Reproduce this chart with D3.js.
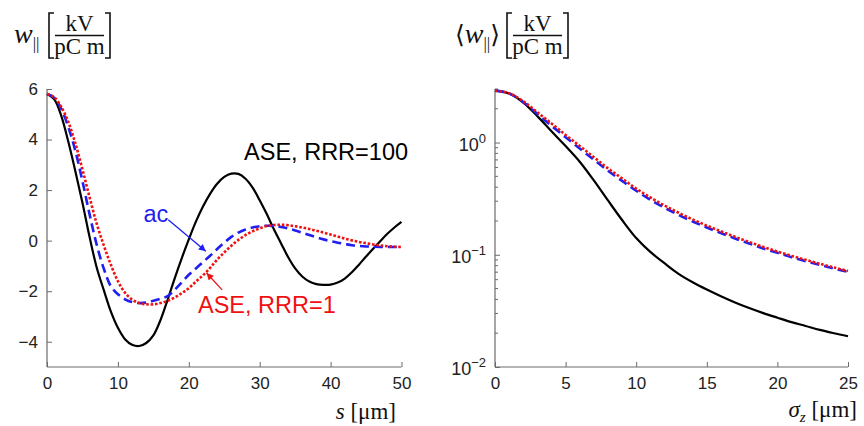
<!DOCTYPE html>
<html>
<head>
<meta charset="utf-8">
<script src="https://cdn.jsdelivr.net/npm/d3@7"></script>
<style>
  html, body { margin: 0; padding: 0; background: #fff; }
  svg { display: block; }
  .tick-label { font-family: "Liberation Sans", Arial, sans-serif; font-size: 17px; fill: #222; }
  .serif { font-family: "Liberation Serif", "DejaVu Serif", serif; fill: #111; }
  .anno { font-family: "Liberation Sans", Arial, sans-serif; font-size: 23.5px; }
</style>
</head>
<body>
<svg id="chart" width="864" height="426"></svg>
<script>
// ---- Wake potential w_|| (kV/pC/m) versus distance s (µm) ----
const sValues = [0,1,2,3,4,5,6,7,8,9,10,11,12,13,14,15,16,17,18,19,20,21,22,23,24,25,
                 26,27,28,29,30,31,32,33,34,35,36,37,38,39,40,41,42,43,44,45,46,47,48,49,50];
const wakeRRR100 = [5.8,5.6,4.95,3.92,2.75,1.5,0.15,-1.05,-1.95,-2.8,-3.45,-3.9,-4.12,-4.17,-4.05,-3.75,
                    -3.15,-2.35,-1.5,-0.7,0.05,0.75,1.35,1.85,2.25,2.52,2.65,2.64,2.45,2.1,1.6,1.05,0.45,
                    -0.1,-0.65,-1.1,-1.42,-1.62,-1.72,-1.75,-1.74,-1.66,-1.5,-1.25,-0.95,-0.63,-0.32,-0.02,0.27,0.52,0.74];
const wakeAC = [5.8,5.66,5.22,4.5,3.55,2.35,1.05,-0.15,-1.1,-1.8,-2.12,-2.32,-2.43,-2.47,-2.45,-2.38,
                -2.3,-2.2,-1.95,-1.65,-1.35,-1.1,-0.85,-0.6,-0.33,-0.08,0.15,0.32,0.44,0.52,0.57,0.59,0.58,
                0.54,0.48,0.4,0.31,0.22,0.13,0.05,-0.02,-0.08,-0.13,-0.18,-0.21,-0.23,-0.24,-0.25,-0.25,-0.25,-0.25];
const wakeRRR1 = [5.8,5.68,5.3,4.7,3.85,2.82,1.72,0.68,-0.18,-0.95,-1.6,-2.06,-2.33,-2.47,-2.52,-2.52,
                  -2.47,-2.38,-2.25,-2.08,-1.88,-1.62,-1.37,-1.08,-0.75,-0.47,-0.2,0.03,0.22,0.37,0.49,0.58,0.62,
                  0.63,0.61,0.57,0.52,0.46,0.39,0.32,0.24,0.16,0.08,0.01,-0.05,-0.1,-0.15,-0.19,-0.22,-0.24,-0.25];
const wakeTicksX = [0,10,20,30,40,50];
const wakeTicksY = [-4,-2,0,2,4,6];

// ---- Loss factor <w_||> (kV/pC/m) versus bunch length sigma_z (µm) ----
const sigmaValues = [0,1,2,3,4,5,6,7,8,9,10,11,12,13,14,15,16,17,18,19,20,21,22,23,24,25];
const lossRRR100 = [2.9,2.73,2.27,1.72,1.26,0.93,0.675,0.46,0.305,0.204,0.141,0.106,0.0841,0.0676,
                    0.0569,0.049,0.0427,0.0376,0.0335,0.0302,0.0275,0.0251,0.0232,0.0214,0.02,0.0188];
const lossAC = [2.9,2.74,2.3,1.8,1.41,1.117,0.885,0.703,0.56,0.455,0.372,0.309,0.263,0.2265,0.198,0.175,
                0.156,0.1396,0.1259,0.1138,0.104,0.0951,0.0877,0.0811,0.0753,0.0703];
const lossRRR1 = [2.9,2.75,2.34,1.86,1.48,1.17,0.933,0.741,0.589,0.479,0.389,0.324,0.275,0.237,0.2065,
                  0.182,0.162,0.1445,0.13,0.1175,0.107,0.0977,0.0902,0.0832,0.0771,0.0716];
const lossTicksX = [0,5,10,15,20,25];
const lossTicksY = [0.01, 0.1, 1];
const lossTickExp = ["\u22122", "\u22121", "0"];

const svg = d3.select("#chart");
const axisColor = "#6b6b6b";
const styles = {
  ase100: { stroke: "#000", width: 2.2, dash: null },
  ac:     { stroke: "#1f1ff0", width: 2.6, dash: "9,5" },
  ase1:   { stroke: "#f01010", width: 2.6, dash: "2.6,1.8" }
};

const plotTop = 89, plotBottom = 367;

// ---------- left panel ----------
const xL = d3.scaleLinear().domain([0, 50]).range([47, 401.5]);
const yL = d3.scaleLinear().domain([-5, 6]).range([plotBottom, plotTop]);

function drawAxes(g, x, y, xTicks, yTicks, yFmt) {
  const ax = g.append("g").attr("transform", `translate(0,${plotBottom})`)
    .call(d3.axisBottom(x).tickValues(xTicks).tickSize(-5).tickSizeOuter(0).tickPadding(10).tickFormat(d3.format("d")));
  const ay = g.append("g").attr("transform", `translate(${x.range()[0]},0)`)
    .call(d3.axisLeft(y).tickValues(yTicks).tickSize(-5).tickSizeOuter(0).tickPadding(9).tickFormat(yFmt));
  [ax, ay].forEach(a => {
    a.select(".domain").attr("stroke", axisColor).attr("stroke-width", 1.2);
    a.selectAll(".tick line").attr("stroke", axisColor).attr("stroke-width", 1);
    a.selectAll(".tick text").attr("class", "tick-label").attr("fill", "#222");
  });
  ax.select(".domain").attr("d", `M${x.range()[0]},0H${x.range()[1]}`);
  ay.select(".domain").attr("d", `M0,${y.range()[0]}V${y.range()[1]}`);
  return { ax, ay };
}

const gL = svg.append("g");
drawAxes(gL, xL, yL, wakeTicksX, wakeTicksY, d => d < 0 ? "\u2212" + Math.abs(d) : String(d));

const lineL = d3.line().x(d => xL(d[0])).y(d => yL(d[1])).curve(d3.curveCatmullRom.alpha(0.5));
[[wakeRRR100, styles.ase100], [wakeAC, styles.ac], [wakeRRR1, styles.ase1]].forEach(([vals, st]) => {
  gL.append("path")
    .datum(sValues.map((s, i) => [s, vals[i]]))
    .attr("d", lineL).attr("fill", "none")
    .attr("stroke", st.stroke).attr("stroke-width", st.width)
    .attr("stroke-dasharray", st.dash).attr("stroke-linejoin", "round");
});

// annotations (data coordinates)
const defs = svg.append("defs");
[["headBlue", "#1f1ff0"], ["headRed", "#f01010"]].forEach(([id, c]) => {
  defs.append("marker").attr("id", id).attr("viewBox", "0 0 10 10")
    .attr("refX", 10).attr("refY", 5).attr("markerWidth", 9).attr("markerHeight", 7)
    .attr("markerUnits", "userSpaceOnUse").attr("orient", "auto")
    .append("path").attr("d", "M0,0L10,5L0,10z").attr("fill", c);
});
const arrows = [
  { from: [17.1, 0.83], to: [22.4, -0.42], color: "#1f1ff0", head: "headBlue" },
  { from: [24.7, -1.95], to: [22.5, -1.28], color: "#f01010", head: "headRed" }
];
arrows.forEach(a => {
  gL.append("line")
    .attr("x1", xL(a.from[0])).attr("y1", yL(a.from[1]))
    .attr("x2", xL(a.to[0])).attr("y2", yL(a.to[1]))
    .attr("stroke", a.color).attr("stroke-width", 1.3)
    .attr("marker-end", `url(#${a.head})`);
});
const labels = [
  { text: "ASE, RRR=100", at: [27.8, 3.2], color: "#000" },
  { text: "ac", at: [13.6, 0.75], color: "#1f1ff0" },
  { text: "ASE, RRR=1", at: [21.3, -2.85], color: "#f01010" }
];
labels.forEach(l => {
  gL.append("text").attr("class", "anno")
    .attr("x", xL(l.at[0])).attr("y", yL(l.at[1]))
    .attr("fill", l.color).text(l.text);
});

// ---------- right panel ----------
const xR = d3.scaleLinear().domain([0, 25]).range([495, 848]);
const yR = d3.scaleLog().domain([0.01, 3]).range([plotBottom, plotTop]);

const gR = svg.append("g");
const { ay: ayR } = drawAxes(gR, xR, yR, lossTicksX, lossTicksY, () => "");
// power-of-ten labels
ayR.selectAll(".tick text").attr("dy", "0.45em").each(function(d, i) {
  const t = d3.select(this).text(null);
  t.append("tspan").attr("font-size", 18).text("10");
  t.append("tspan").attr("dy", -8).attr("font-size", 13).text(lossTickExp[i]);
});
// minor ticks for the log axis
const minor = [];
[0.01, 0.1, 1].forEach(dec => [2,3,4,5,6,7,8,9].forEach(m => { if (dec * m <= 3) minor.push(dec * m); }));
gR.append("g").selectAll("line").data(minor).join("line")
  .attr("x1", xR(0)).attr("x2", xR(0) + 3)
  .attr("y1", d => yR(d)).attr("y2", d => yR(d))
  .attr("stroke", axisColor).attr("stroke-width", 1);

const lineR = d3.line().x(d => xR(d[0])).y(d => yR(d[1])).curve(d3.curveCatmullRom.alpha(0.5));
[[lossRRR100, styles.ase100], [lossAC, styles.ac], [lossRRR1, styles.ase1]].forEach(([vals, st]) => {
  gR.append("path")
    .datum(sigmaValues.map((s, i) => [s, vals[i]]))
    .attr("d", lineR).attr("fill", "none")
    .attr("stroke", st.stroke).attr("stroke-width", st.width)
    .attr("stroke-dasharray", st.dash).attr("stroke-linejoin", "round");
});

// ---------- axis titles ----------
function unitFraction(cx) {
  const g = svg.append("g");
  const bl = cx - 33, br = cx + 28;
  g.append("path").attr("d", `M${bl + 5},13H${bl}V58H${bl + 5}`).attr("fill", "none").attr("stroke", "#111").attr("stroke-width", 1.6);
  g.append("path").attr("d", `M${br - 5},13H${br}V58H${br - 5}`).attr("fill", "none").attr("stroke", "#111").attr("stroke-width", 1.6);
  g.append("text").attr("class", "serif").attr("x", cx - 2.5).attr("y", 31).attr("text-anchor", "middle").attr("font-size", 23).text("kV");
  g.append("line").attr("x1", bl + 6).attr("x2", br - 6).attr("y1", 35.5).attr("y2", 35.5).attr("stroke", "#111").attr("stroke-width", 1.4);
  g.append("text").attr("class", "serif").attr("x", cx - 2.5).attr("y", 54).attr("text-anchor", "middle").attr("font-size", 23).text("pC m");
}

const tL = svg.append("text").attr("class", "serif").attr("x", 14).attr("y", 43);
tL.append("tspan").attr("font-style", "italic").attr("font-size", 28).text("w");
tL.append("tspan").attr("font-size", 17).attr("dy", 6).text("||");
unitFraction(82);

const tR = svg.append("text").attr("class", "serif").attr("x", 455).attr("y", 43);
tR.append("tspan").attr("font-size", 25).text("\u27E8");
tR.append("tspan").attr("font-style", "italic").attr("font-size", 28).text("w");
tR.append("tspan").attr("font-size", 17).attr("dy", 6).text("||");
tR.append("tspan").attr("font-size", 25).attr("dy", -6).text("\u27E9");
unitFraction(540);

const xtL = svg.append("text").attr("class", "serif").attr("x", 396).attr("y", 419).attr("text-anchor", "end").attr("font-size", 23);
xtL.append("tspan").attr("font-style", "italic").text("s");
xtL.append("tspan").text(" [\u03BCm]");

const xtR = svg.append("text").attr("class", "serif").attr("x", 857).attr("y", 417).attr("text-anchor", "end").attr("font-size", 23);
xtR.append("tspan").attr("font-style", "italic").text("\u03C3");
xtR.append("tspan").attr("font-style", "italic").attr("font-size", 15).attr("dy", 5).text("z");
xtR.append("tspan").attr("dy", -5).text(" [\u03BCm]");
</script>
</body>
</html>
